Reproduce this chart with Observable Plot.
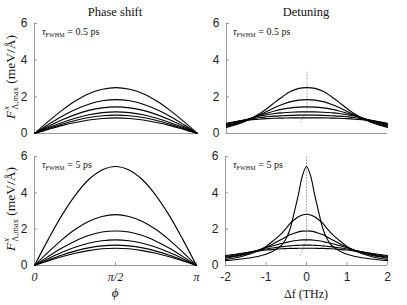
<!DOCTYPE html>
<html><head><meta charset="utf-8">
<script src="https://cdn.jsdelivr.net/npm/d3@7"></script>
<script src="https://cdn.jsdelivr.net/npm/@observablehq/plot@0.6"></script>
<style>
body{margin:0;background:#fff;}
#wrap{position:relative;width:407px;height:305px;overflow:hidden;color:#111;}
.panel{position:absolute;}
.t,.ylab{font-family:"Liberation Serif","Times New Roman",serif;}
.t{position:absolute;white-space:nowrap;line-height:1;}
.ss{display:inline-flex;flex-direction:column;vertical-align:middle;font-size:0.62em;line-height:1.05;margin-left:1px;}
.ylab{position:absolute;white-space:nowrap;font-size:13.5px;line-height:1;transform:translate(-50%,-50%) rotate(-90deg);}
.tau{font-size:10px;}
.tau sub{font-size:0.6em;vertical-align:-0.25em;letter-spacing:0.02em;}
</style></head><body><div id="wrap"></div>
<script>
// ---------- data ----------
const titles = ["Phase shift", "Detuning"];
const tauLabels = ["0.5 ps", "5 ps"];
const yTicks = [0, 2, 4, 6];
const yTickLabels = ["0", "2", "4", "6"];
const phiTicks = [0, Math.PI / 2, Math.PI];
const phiTickLabels = ["0", "π/2", "π"];
const dfTicks = [-2, -1, 0, 1, 2];
const dfTickLabels = ["-2", "-1", "0", "1", "2"];

// phase grid (phi, rad) : 0 .. pi in steps of pi/12
const phi = [0, 0.2618, 0.5236, 0.7854, 1.0472, 1.309, 1.5708, 1.8326, 2.0944, 2.3562, 2.618, 2.8798, 3.1416];
// phase shift, tau = 0.5 ps
const phaseShort = [
  [0, 0.65, 1.25, 1.77, 2.17, 2.41, 2.50, 2.41, 2.17, 1.77, 1.25, 0.65, 0],
  [0, 0.48, 0.93, 1.31, 1.60, 1.79, 1.85, 1.79, 1.60, 1.31, 0.93, 0.48, 0],
  [0, 0.38, 0.73, 1.03, 1.26, 1.40, 1.45, 1.40, 1.26, 1.03, 0.73, 0.38, 0],
  [0, 0.31, 0.59, 0.83, 1.02, 1.14, 1.18, 1.14, 1.02, 0.83, 0.59, 0.31, 0],
  [0, 0.26, 0.50, 0.71, 0.87, 0.97, 1.00, 0.97, 0.87, 0.71, 0.50, 0.26, 0],
  [0, 0.22, 0.43, 0.60, 0.74, 0.82, 0.85, 0.82, 0.74, 0.60, 0.43, 0.22, 0]
];
// phase shift, tau = 5 ps
const phaseLong = [
  [0, 1.41, 2.73, 3.85, 4.72, 5.26, 5.45, 5.26, 4.72, 3.85, 2.73, 1.41, 0],
  [0, 0.72, 1.40, 1.98, 2.42, 2.70, 2.80, 2.70, 2.42, 1.98, 1.40, 0.72, 0],
  [0, 0.49, 0.95, 1.34, 1.65, 1.84, 1.90, 1.84, 1.65, 1.34, 0.95, 0.49, 0],
  [0, 0.37, 0.71, 1.00, 1.22, 1.36, 1.41, 1.36, 1.22, 1.00, 0.71, 0.37, 0],
  [0, 0.29, 0.56, 0.79, 0.97, 1.08, 1.12, 1.08, 0.97, 0.79, 0.56, 0.29, 0],
  [0, 0.25, 0.48, 0.67, 0.82, 0.92, 0.95, 0.92, 0.82, 0.67, 0.48, 0.25, 0]
];
// detuning grid (THz), tau = 0.5 ps
const dfShort = [-2, -1.6, -1.2, -1, -0.8, -0.6, -0.4, -0.2, 0, 0.2, 0.4, 0.6, 0.8, 1, 1.2, 1.6, 2];
const detShort = [
  [0.33, 0.60, 1.05, 1.35, 1.70, 2.02, 2.30, 2.46, 2.50, 2.46, 2.30, 2.02, 1.70, 1.35, 1.05, 0.60, 0.33],
  [0.38, 0.64, 1.00, 1.20, 1.42, 1.60, 1.74, 1.82, 1.85, 1.82, 1.74, 1.60, 1.42, 1.20, 1.00, 0.64, 0.38],
  [0.43, 0.68, 0.97, 1.10, 1.23, 1.33, 1.40, 1.44, 1.45, 1.44, 1.40, 1.33, 1.23, 1.10, 0.97, 0.68, 0.43],
  [0.48, 0.71, 0.94, 1.02, 1.09, 1.13, 1.16, 1.18, 1.18, 1.18, 1.16, 1.13, 1.09, 1.02, 0.94, 0.71, 0.48],
  [0.52, 0.72, 0.86, 0.91, 0.95, 0.97, 0.99, 1.00, 1.00, 1.00, 0.99, 0.97, 0.95, 0.91, 0.86, 0.72, 0.52],
  [0.56, 0.70, 0.78, 0.81, 0.83, 0.84, 0.85, 0.85, 0.85, 0.85, 0.85, 0.84, 0.83, 0.81, 0.78, 0.70, 0.56]
];
// detuning grid (THz), tau = 5 ps
const dfLong = [-2, -1.6, -1.2, -1, -0.8, -0.6, -0.5, -0.4, -0.3, -0.2, -0.1, 0, 0.1, 0.2, 0.3, 0.4, 0.5, 0.6, 0.8, 1, 1.2, 1.6, 2];
const detLong = [
  [0.27, 0.36, 0.50, 0.62, 0.82, 1.15, 1.50, 2.05, 2.95, 3.90, 4.95, 5.45, 4.95, 3.90, 2.95, 2.05, 1.50, 1.15, 0.82, 0.62, 0.50, 0.36, 0.27],
  [0.33, 0.50, 0.80, 1.05, 1.40, 1.80, 2.05, 2.33, 2.52, 2.68, 2.78, 2.82, 2.78, 2.68, 2.52, 2.33, 2.05, 1.80, 1.40, 1.05, 0.80, 0.50, 0.33],
  [0.40, 0.56, 0.82, 1.00, 1.22, 1.46, 1.58, 1.70, 1.78, 1.85, 1.89, 1.90, 1.89, 1.85, 1.78, 1.70, 1.58, 1.46, 1.22, 1.00, 0.82, 0.56, 0.40],
  [0.45, 0.60, 0.84, 0.98, 1.10, 1.22, 1.27, 1.32, 1.36, 1.39, 1.41, 1.41, 1.41, 1.39, 1.36, 1.32, 1.27, 1.22, 1.10, 0.98, 0.84, 0.60, 0.45],
  [0.50, 0.65, 0.83, 0.91, 0.98, 1.04, 1.06, 1.08, 1.10, 1.11, 1.12, 1.12, 1.12, 1.11, 1.10, 1.08, 1.06, 1.04, 0.98, 0.91, 0.83, 0.65, 0.50],
  [0.55, 0.67, 0.79, 0.85, 0.89, 0.92, 0.93, 0.94, 0.94, 0.95, 0.95, 0.95, 0.95, 0.95, 0.94, 0.94, 0.93, 0.92, 0.89, 0.85, 0.79, 0.67, 0.55]
];
// dotted guide through the peaks
const guideShortX = [0, 0, -0.17];
const guideShortY = [3.35, 1.2, 0.6];
const guideLongX = [0, 0, -0.17];
const guideLongY = [6.0, 1.4, 0.5];

// ---------- drawing ----------
const wrap = document.getElementById("wrap");
const AX = "#9a9a9a";
const SANS = "Liberation Sans, Arial, sans-serif";
const SERIF = "Liberation Serif, Times New Roman, serif";

function panel(o) {
  const data = o.series.flatMap((ys, k) => ys.map((y, j) => ({x: o.xs[j], y, k})));
  const guide = o.gx.map((x, i) => ({x, y: o.gy[i]}));
  const fmt = d => { const i = o.xTicks.indexOf(d); return o.showX ? o.xLabels[i] : ""; };
  const yfmt = d => yTickLabels[yTicks.indexOf(d)];
  const marks = [
    Plot.ruleY([0], {stroke: AX}),
    Plot.ruleX([o.xDomain[0]], {stroke: AX}),
    Plot.axisY({ticks: yTicks, tickSize: -3, tickPadding: 10, tickFormat: yfmt, label: null, stroke: AX, fill: "#222",
      fontFamily: SANS, fontSize: 12}),
    Plot.axisX({ticks: o.xTicks, tickSize: o.showX ? -3 : 0, tickPadding: 10, tickFormat: fmt, label: null,
      stroke: AX, fill: "#222", fontFamily: o.xFont, fontSize: o.xSize, fontStyle: o.xItalic ? "italic" : "normal"})
  ];
  if (guide.length) marks.push(Plot.line(guide, {x: "x", y: "y", stroke: "#aaa", strokeDasharray: "1,2", strokeWidth: 1}));
  marks.push(Plot.line(data, {x: "x", y: "y", z: "k", stroke: "#000", strokeWidth: 1.1, curve: "catmull-rom"}));
  const svg = Plot.plot({
    width: o.width, height: o.height,
    marginLeft: o.mL, marginRight: o.mR, marginTop: o.mT, marginBottom: o.mB,
    style: {background: "transparent", overflow: "visible"},
    x: {domain: o.xDomain}, y: {domain: [0, 6]},
    marks
  });
  svg.classList.add("panel");
  svg.style.left = o.left + "px";
  svg.style.top = o.top + "px";
  wrap.appendChild(svg);
}

panel({left: 0, top: 0, width: 200, height: 145, mL: 34, mR: 3, mT: 23, mB: 12,
  xDomain: [0, Math.PI], xTicks: phiTicks, xLabels: phiTickLabels, xFont: SERIF, xSize: 12, xItalic: true,
  showX: false, xs: phi, series: phaseShort, gx: [], gy: []});
panel({left: 200, top: 0, width: 207, height: 145, mL: 26, mR: 20, mT: 23, mB: 12,
  xDomain: [-2, 2], xTicks: dfTicks, xLabels: dfTickLabels, xFont: SANS, xSize: 12,
  showX: false, xs: dfShort, series: detShort, gx: guideShortX, gy: guideShortY});
panel({left: 0, top: 145, width: 200, height: 160, mL: 34, mR: 4, mT: 11, mB: 40,
  xDomain: [0, Math.PI], xTicks: phiTicks, xLabels: phiTickLabels, xFont: SERIF, xSize: 12, xItalic: true,
  showX: true, xs: phi, series: phaseLong, gx: [], gy: []});
panel({left: 200, top: 145, width: 207, height: 160, mL: 25, mR: 20, mT: 11, mB: 40,
  xDomain: [-2, 2], xTicks: dfTicks, xLabels: dfTickLabels, xFont: SANS, xSize: 12,
  showX: true, xs: dfLong, series: detLong, gx: guideLongX, gy: guideLongY});

function addText(html, css, cls) {
  const d = document.createElement("div");
  d.className = cls || "t";
  d.innerHTML = html;
  Object.assign(d.style, css);
  wrap.appendChild(d);
  return d;
}
// titles
addText(titles[0], {left: "115px", top: "6px", fontSize: "12.5px", transform: "translateX(-50%)"});
addText(titles[1], {left: "306px", top: "6px", fontSize: "12.5px", transform: "translateX(-50%)"});
// y labels
const yl = '<i>F</i><span class="ss"><i>x</i><span>Λ,max</span></span>&nbsp;(meV/Å)';
addText(yl, {left: "12px", top: "77px"}, "ylab");
addText(yl, {left: "12px", top: "209px"}, "ylab");
// tau annotations
const tau = v => '<i>τ</i><sub>FWHM</sub> = ' + v;
addText(tau(tauLabels[0]), {left: "42px", top: "27px"}, "t tau");
addText(tau(tauLabels[0]), {left: "233px", top: "27px"}, "t tau");
addText(tau(tauLabels[1]), {left: "42px", top: "160px"}, "t tau");
addText(tau(tauLabels[1]), {left: "233px", top: "160px"}, "t tau");
// x labels
addText("<i>ϕ</i>", {left: "115px", top: "286px", fontSize: "13px", transform: "translateX(-50%)"});
addText("Δf (THz)", {left: "306px", top: "288px", fontSize: "12px", transform: "translateX(-50%)"});
</script></body></html>
